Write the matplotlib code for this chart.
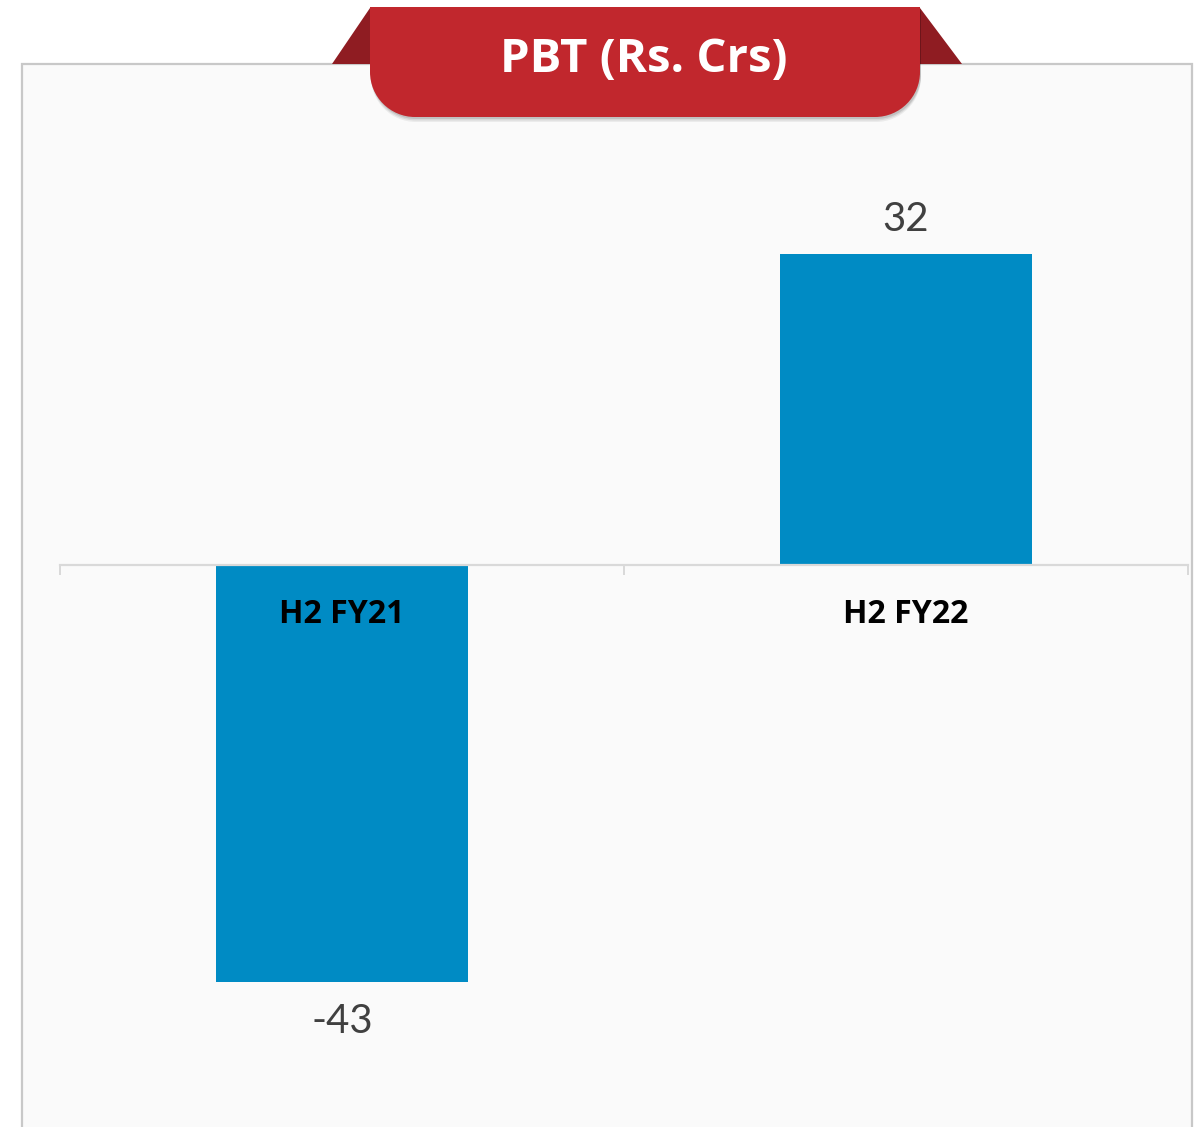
import matplotlib
matplotlib.use("Agg")
import matplotlib.pyplot as plt
from matplotlib.path import Path
from matplotlib.patches import PathPatch, Rectangle, Polygon

categories = ["H2 FY21", "H2 FY22"]
pbt = [-43, 32]
title = "PBT (Rs. Crs)"

W, H = 1203, 1127
fig = plt.figure(figsize=(W / 100, H / 100), dpi=100)
fig.patch.set_facecolor("white")

# background layer in pixel coordinates
bg = fig.add_axes([0, 0, 1, 1])
bg.set_xlim(0, W)
bg.set_ylim(H, 0)
bg.axis("off")
bg.add_patch(Rectangle((22, 64), 1170, 1200, facecolor="#fafafa",
                       edgecolor="#c8c8c8", lw=1.6))

# chart
ax = fig.add_axes([60 / W, 0, (1188 - 60) / W, (H - 130) / H])
ax.patch.set_alpha(0)
x = list(range(len(categories)))
bars = ax.bar(x, pbt, width=0.447, color="#008bc4", zorder=1)
ax.set_xlim(-0.5, 1.5)
ax.set_ylim(-(H - 565) / 9.707, (565 - 130) / 9.707)
for s in ["top", "right", "left"]:
    ax.spines[s].set_visible(False)
ax.spines["bottom"].set_position(("data", 0))
ax.spines["bottom"].set_color("#d9d9d9")
ax.spines["bottom"].set_linewidth(1.6)
ax.set_yticks([])
ax.set_xticks([-0.5, 0.5, 1.5])
ax.set_xticklabels([])
ax.tick_params(axis="x", which="major", length=7, width=1.4, color="#d9d9d9")
ax.set_xticks(x, minor=True)
ax.set_xticklabels(categories, minor=True, fontsize=23, fontweight="bold",
                   family="Open Sans", color="black")
ax.tick_params(axis="x", which="minor", length=0, pad=23.5)
for lbl in ax.get_xticklabels(minor=True):
    lbl.set_zorder(5)

for xi, v in zip(x, pbt):
    off = 12 if v >= 0 else -15
    ax.annotate(str(v), (xi, v), xytext=(0, off), textcoords="offset points",
                ha="center", va="bottom" if v >= 0 else "top",
                fontsize=29, family=["Lato", "DejaVu Sans"], color="#404040")

# banner on top
fg = fig.add_axes([0, 0, 1, 1])
fg.set_xlim(0, W)
fg.set_ylim(H, 0)
fg.axis("off")
fg.patch.set_alpha(0)
fg.add_patch(Polygon([(332, 64), (370, 8), (370, 64)], closed=True,
                     facecolor="#8f1c22", edgecolor="none"))
fg.add_patch(Polygon([(920, 8), (962, 64), (920, 64)], closed=True,
                     facecolor="#8f1c22", edgecolor="none"))


def banner_path(l, r, t, b, rad, dy=0):
    k = 0.5523 * rad
    t += dy
    b += dy
    verts = [(l, t), (r, t), (r, b - rad),
             (r, b - rad + k), (r - rad + k, b), (r - rad, b),
             (l + rad, b),
             (l + rad - k, b), (l, b - rad + k), (l, b - rad),
             (l, t)]
    codes = [Path.MOVETO, Path.LINETO, Path.LINETO,
             Path.CURVE4, Path.CURVE4, Path.CURVE4,
             Path.LINETO,
             Path.CURVE4, Path.CURVE4, Path.CURVE4,
             Path.CLOSEPOLY]
    return Path(verts, codes)


for dy, a in [(5, 0.06), (3.5, 0.08), (2, 0.1)]:
    fg.add_patch(PathPatch(banner_path(371, 921, 7, 117, 45, dy),
                           facecolor="black", edgecolor="none", alpha=a))
fg.add_patch(PathPatch(banner_path(370, 920, 7, 117, 45),
                       facecolor="#c1272d", edgecolor="none"))
fg.text(644, 60, title, color="white", fontsize=34, fontweight="bold",
        family="Open Sans", ha="center", va="center")

fig.savefig("out.png", dpi=100)
